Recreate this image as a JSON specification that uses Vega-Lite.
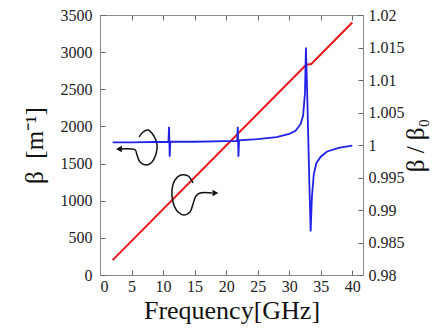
{
  "$schema": "https://vega.github.io/schema/vega-lite/v6.json",
  "width": 263,
  "height": 260,
  "autosize": {"type": "none"},
  "padding": {"left": 100, "top": 15, "right": 82, "bottom": 54},
  "background": "white",
  "config": {
    "font": "Liberation Serif",
    "view": {"stroke": null},
    "axis": {
      "labelFont": "Liberation Serif",
      "titleFont": "Liberation Serif",
      "labelFontSize": 16,
      "titleFontSize": 25,
      "titleFontWeight": "normal",
      "labelColor": "#222",
      "titleColor": "#111",
      "domainColor": "#888",
      "tickColor": "#666",
      "tickWidth": 1,
      "tickSize": -5,
      "grid": false
    }
  },
  "datasets": {
    "beta": [
      {"f": 2, "b": 200},
      {"f": 32.7, "b": 2830},
      {"f": 33.5, "b": 2840},
      {"f": 40, "b": 3400}
    ],
    "ratio": [
      {"f": 2, "r": 1.0004},
      {"f": 5, "r": 1.0004},
      {"f": 10.85, "r": 1.0005},
      {"f": 10.95, "r": 1.0028},
      {"f": 11.05, "r": 0.9982},
      {"f": 11.15, "r": 1.0005},
      {"f": 15, "r": 1.0005},
      {"f": 20, "r": 1.0006},
      {"f": 21.75, "r": 1.0006},
      {"f": 21.85, "r": 1.0028},
      {"f": 21.95, "r": 0.9982},
      {"f": 22.05, "r": 1.0007},
      {"f": 25, "r": 1.0009},
      {"f": 28, "r": 1.0012},
      {"f": 30, "r": 1.0017},
      {"f": 31, "r": 1.0022},
      {"f": 31.8, "r": 1.0032},
      {"f": 32.2, "r": 1.0045},
      {"f": 32.5, "r": 1.008},
      {"f": 32.65, "r": 1.015},
      {"f": 32.8, "r": 1.01},
      {"f": 33.0, "r": 1.002},
      {"f": 33.2, "r": 0.994},
      {"f": 33.4, "r": 0.9867},
      {"f": 33.6, "r": 0.992},
      {"f": 33.9, "r": 0.9955},
      {"f": 34.3, "r": 0.9972},
      {"f": 35, "r": 0.9982},
      {"f": 36, "r": 0.999},
      {"f": 38, "r": 0.9996},
      {"f": 40, "r": 0.9999}
    ],
    "curl": [
      {"g": "a", "i": 1, "f": 6.2, "b": 1858},
      {"g": "a", "i": 2, "f": 6.82, "b": 1925},
      {"g": "a", "i": 3, "f": 7.61, "b": 1952},
      {"g": "a", "i": 4, "f": 8.56, "b": 1870},
      {"g": "a", "i": 5, "f": 9.04, "b": 1760},
      {"g": "a", "i": 6, "f": 8.88, "b": 1629},
      {"g": "a", "i": 7, "f": 8.09, "b": 1508},
      {"g": "a", "i": 8, "f": 7.29, "b": 1481},
      {"g": "a", "i": 9, "f": 6.34, "b": 1521},
      {"g": "a", "i": 10, "f": 5.87, "b": 1615},
      {"g": "a", "i": 11, "f": 5.6, "b": 1683},
      {"g": "a", "i": 12, "f": 5.0, "b": 1696},
      {"g": "a", "i": 13, "f": 3.2, "b": 1696},
      {"g": "b", "i": 1, "f": 14.75, "b": 1238},
      {"g": "b", "i": 2, "f": 13.95, "b": 1333},
      {"g": "b", "i": 3, "f": 12.84, "b": 1346},
      {"g": "b", "i": 4, "f": 11.89, "b": 1279},
      {"g": "b", "i": 5, "f": 11.42, "b": 1144},
      {"g": "b", "i": 6, "f": 11.57, "b": 983},
      {"g": "b", "i": 7, "f": 12.37, "b": 848},
      {"g": "b", "i": 8, "f": 13.32, "b": 808},
      {"g": "b", "i": 9, "f": 14.27, "b": 848},
      {"g": "b", "i": 10, "f": 14.75, "b": 956},
      {"g": "b", "i": 11, "f": 15.22, "b": 1063},
      {"g": "b", "i": 12, "f": 15.86, "b": 1104},
      {"g": "b", "i": 13, "f": 17.8, "b": 1104}
    ],
    "heads": [
      {"f": 3.0, "b": 1696, "s": "triangle-left"},
      {"f": 18.3, "b": 1104, "s": "triangle-right"}
    ]
  },
  "layer": [
    {
      "data": {"name": "beta"},
      "mark": {"type": "line", "color": "#e8161b", "strokeWidth": 2},
      "encoding": {
        "x": {
          "field": "f", "type": "quantitative",
          "scale": {"domain": [0, 41.7], "nice": false, "zero": false},
          "axis": {"title": "Frequency[GHz]", "titleFont": "Liberation Serif", "titleFontSize": 26, "values": [0, 5, 10, 15, 20, 25, 30, 35, 40], "format": "d", "labelFont": "Liberation Serif", "labelFontSize": 16, "labelPadding": 8, "titlePadding": 3, "orient": "bottom"}
        },
        "y": {
          "field": "b", "type": "quantitative",
          "scale": {"domain": [0, 3500], "nice": false},
          "axis": {"title": "β\u00a0\u00a0[m⁻¹]", "titleFont": "Liberation Serif", "titleFontSize": 25, "values": [0, 500, 1000, 1500, 2000, 2500, 3000, 3500], "format": "d", "labelFont": "Liberation Serif", "labelFontSize": 16, "labelPadding": 13, "titlePadding": 13, "orient": "left"}
        }
      }
    },
    {
      "data": {"name": "curl"},
      "mark": {"type": "line", "color": "#111", "strokeWidth": 1.5, "interpolate": "catmull-rom"},
      "encoding": {
        "x": {
          "field": "f", "type": "quantitative",
          "axis": {"title": null, "labels": false, "values": [0, 5, 10, 15, 20, 25, 30, 35, 40], "orient": "top"}
        },
        "y": {"field": "b", "type": "quantitative", "scale": {"domain": [0, 3500], "nice": false}, "axis": null},
        "detail": {"field": "g"},
        "order": {"field": "i"}
      }
    },
    {
      "data": {"name": "heads"},
      "mark": {"type": "point", "filled": true, "color": "#111", "size": 45, "opacity": 1},
      "encoding": {
        "x": {"field": "f", "type": "quantitative", "axis": null},
        "y": {"field": "b", "type": "quantitative", "scale": {"domain": [0, 3500], "nice": false}, "axis": null},
        "shape": {"field": "s", "type": "nominal", "scale": null, "legend": null}
      }
    },
    {
      "data": {"name": "ratio"},
      "mark": {"type": "line", "color": "#2222e6", "strokeWidth": 1.8},
      "encoding": {
        "x": {"field": "f", "type": "quantitative", "axis": null},
        "y": {
          "field": "r", "type": "quantitative",
          "scale": {"domain": [0.98, 1.02], "nice": false, "zero": false},
          "axis": {"title": "β / β₀", "titleFont": "Liberation Serif", "titleFontSize": 25, "orient": "right", "values": [0.98, 0.985, 0.99, 0.995, 1, 1.005, 1.01, 1.015, 1.02], "format": "~g", "labelFont": "Liberation Serif", "labelFontSize": 16, "labelPadding": 10, "titlePadding": 24, "titleAngle": 270}
        }
      }
    }
  ],
  "resolve": {"scale": {"y": "independent"}, "axis": {"x": "independent"}}
}
